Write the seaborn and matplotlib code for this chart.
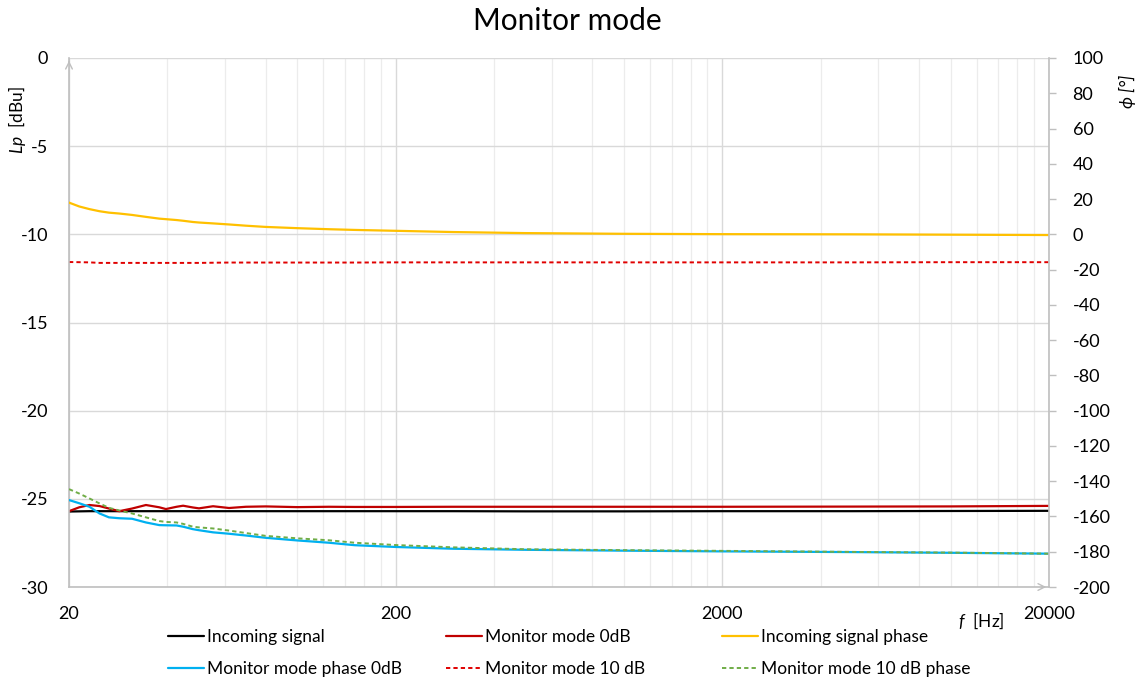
import numpy as np
import pandas as pd
import seaborn as sns
import matplotlib.pyplot as plt
from matplotlib.ticker import FixedLocator, NullFormatter, FuncFormatter

# Data (frequency in Hz)
freq = [20, 21.5, 23.1, 24.8, 26.5, 28.5, 31.2, 34.4, 37.8, 39.6, 42.7, 44.7, 47.9, 50,
        55.2, 61.8, 69.6, 80, 100, 125, 150, 200, 300, 500, 1000, 2000, 5000, 10000, 20000]

# levels [dBu], left axis
incoming = [-25.72, -25.71, -25.70, -25.70, -25.70, -25.70, -25.70, -25.70, -25.70, -25.70,
            -25.70, -25.70, -25.70, -25.70, -25.70, -25.70, -25.70, -25.70, -25.70, -25.70,
            -25.70, -25.70, -25.70, -25.71, -25.71, -25.70, -25.70, -25.69, -25.68]
mon_0db = [-25.70, -25.48, -25.35, -25.41, -25.55, -25.70, -25.55, -25.35, -25.48, -25.58,
           -25.45, -25.39, -25.49, -25.54, -25.42, -25.52, -25.45, -25.43, -25.47, -25.45,
           -25.46, -25.46, -25.45, -25.45, -25.45, -25.45, -25.44, -25.43, -25.40]
mon_10db = [-11.57, -11.58, -11.59, -11.62, -11.62, -11.62, -11.62, -11.62, -11.62, -11.62,
            -11.62, -11.62, -11.62, -11.62, -11.61, -11.60, -11.60, -11.60, -11.60, -11.60,
            -11.60, -11.59, -11.59, -11.59, -11.59, -11.59, -11.59, -11.58, -11.58]

# phases [deg], right axis
incoming_phase = [18.0, 15.8, 14.3, 13.1, 12.3, 11.8, 11.0, 9.9, 8.9, 8.6, 8.1, 7.7, 7.0, 6.7,
                  6.2, 5.6, 4.9, 4.2, 3.5, 2.9, 2.5, 2.0, 1.3, 0.7, 0.3, 0.1, 0.0, -0.2, -0.4]
mon_phase_0db = [-150.7, -152.5, -154.5, -158.3, -160.5, -161.0, -161.3, -163.4, -164.9, -165.0,
                 -165.1, -165.8, -167.2, -167.8, -169.0, -169.8, -170.8, -172.1, -173.6, -174.9,
                 -176.3, -177.3, -178.3, -178.9, -179.4, -179.8, -180.2, -180.6, -181.1]
mon_phase_10db = [-144.5, -147.0, -149.8, -152.6, -155.1, -156.6, -158.3, -160.5, -162.6, -163.1,
                  -163.4, -164.2, -165.8, -166.2, -166.8, -168.0, -169.4, -171.0, -172.4, -173.5,
                  -174.9, -176.2, -177.5, -178.6, -179.1, -179.5, -180.1, -180.5, -181.1]

df = pd.DataFrame({'f': freq, 'incoming': incoming, 'mon_0db': mon_0db, 'mon_10db': mon_10db,
                   'incoming_phase': incoming_phase, 'mon_phase_0db': mon_phase_0db,
                   'mon_phase_10db': mon_phase_10db})

sns.set_theme(style='white')
plt.rcParams['font.family'] = ['Lato', 'DejaVu Sans']
plt.rcParams['mathtext.fontset'] = 'custom'
plt.rcParams['mathtext.it'] = 'Lato:italic'
plt.rcParams['mathtext.rm'] = 'Lato'
plt.rcParams['axes.unicode_minus'] = False
plt.rcParams['text.color'] = 'black'

grey = '#bfbfbf'
fig = plt.figure(figsize=(11.44, 6.80), dpi=100)
ax = fig.add_axes([69/1144, 93/680, 980/1144, 529/680])
ax2 = ax.twinx()

dash = (0, (2.2, 1.6))
sns.lineplot(data=df, x='f', y='incoming', ax=ax, color='#000000', lw=1.6, label='Incoming signal', legend=False)
sns.lineplot(data=df, x='f', y='mon_0db', ax=ax, color='#c00000', lw=1.6, label='Monitor mode 0dB', legend=False)
sns.lineplot(data=df, x='f', y='mon_10db', ax=ax, color='#e00000', lw=1.4, linestyle=dash, label='Monitor mode 10 dB', legend=False)
sns.lineplot(data=df, x='f', y='incoming_phase', ax=ax2, color='#ffc000', lw=1.6, label='Incoming signal phase', legend=False)
sns.lineplot(data=df, x='f', y='mon_phase_0db', ax=ax2, color='#00b0f0', lw=1.6, label='Monitor mode phase 0dB', legend=False)
sns.lineplot(data=df, x='f', y='mon_phase_10db', ax=ax2, color='#70ad47', lw=1.4, linestyle=dash, label='Monitor mode 10 dB phase', legend=False)

ax.set_xscale('log')
ax.set_xlim(20, 20000)
ax.set_ylim(-30, 0)
ax2.set_ylim(-200, 100)
ax.set_yticks(np.arange(-30, 1, 5))
ax2.set_yticks(np.arange(-200, 101, 20))
ax.xaxis.set_major_locator(FixedLocator([20, 200, 2000, 20000]))
ax.xaxis.set_major_formatter(FuncFormatter(lambda v, p: f'{v:g}'))
ax.xaxis.set_minor_locator(FixedLocator([20 * m * 10**d for d in range(3) for m in range(2, 10)]))
ax.xaxis.set_minor_formatter(NullFormatter())

ax.set_xlabel('')
ax.set_ylabel('')
ax2.set_ylabel('')

ax.grid(True, which='major', axis='both', color='#d9d9d9', lw=1.0)
ax.grid(True, which='minor', axis='x', color='#ececec', lw=0.9)
ax.set_axisbelow(True)

for a in (ax, ax2):
    for s in a.spines.values():
        s.set_visible(False)
ax.spines['left'].set_visible(True)
ax.spines['bottom'].set_visible(True)
ax2.spines['right'].set_visible(True)
for s in (ax.spines['left'], ax.spines['bottom'], ax2.spines['right']):
    s.set_color(grey)
    s.set_linewidth(1.2)

ax.tick_params(axis='x', which='both', length=0, pad=14, labelsize=13, colors='black')
ax.tick_params(axis='y', length=0, pad=15, labelsize=13, colors='black')
ax2.tick_params(axis='y', length=5, width=1, color=grey, pad=12, labelsize=13, labelcolor='black')

# axis arrows
ax.annotate('', xy=(0, 1.0), xytext=(0, 0.985), xycoords='axes fraction',
            arrowprops=dict(arrowstyle='->', color=grey, lw=1.0))
ax.annotate('', xy=(1.0, 0), xytext=(0.99, 0), xycoords='axes fraction',
            arrowprops=dict(arrowstyle='->', color=grey, lw=1.0))

# texts
fig.text(567/1144, 1 - 21/680, 'Monitor mode', ha='center', va='center', fontsize=21.5)
fig.text(17/1144, 1 - 120/680, '$Lp$  [dBu]', rotation=90, ha='center', va='center', fontsize=12.5)
fig.text(1127/1144, 1 - 91/680, 'ϕ [°]', rotation=90, ha='center', va='center', fontsize=12.5,
         fontstyle='italic', family=['Lato', 'DejaVu Sans'])
fig.text(981/1144, 1 - 621/680, '$f$  [Hz]', ha='center', va='center', fontsize=12.5)

# legend: three columns of two rows, laid out like the original
lines = {l.get_label(): l for l in ax.get_lines() + ax2.get_lines()}
columns = [(168, ['Incoming signal', 'Monitor mode phase 0dB']),
           (446, ['Monitor mode 0dB', 'Monitor mode 10 dB']),
           (722, ['Incoming signal phase', 'Monitor mode 10 dB phase'])]
for x0, labels in columns:
    fig.legend([lines[k] for k in labels], labels, loc='center left',
               bbox_to_anchor=(x0/1144, 1 - 653/680), frameon=False, fontsize=12.5,
               borderpad=0, borderaxespad=0, handlelength=2.1, handletextpad=0.15,
               labelspacing=0.9)

fig.savefig('out.png', dpi=100)
